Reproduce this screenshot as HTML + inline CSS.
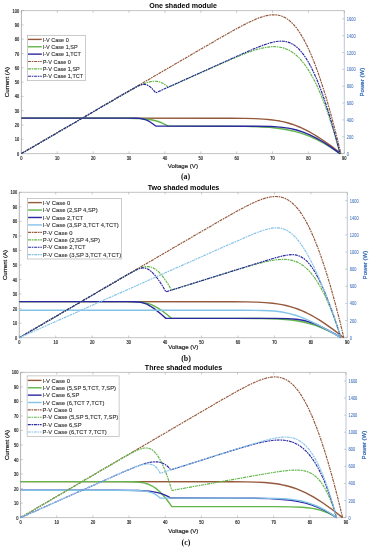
<!DOCTYPE html>
<html><head><meta charset="utf-8"><style>
html,body{margin:0;padding:0;background:#fff;width:371px;height:550px;overflow:hidden}
svg{display:block;will-change:transform}
</style></head><body>
<svg width="371" height="550" viewBox="0 0 371 550" font-family='"Liberation Sans", sans-serif'>
<rect width="371" height="550" fill="#fff"/>
<line x1="21.4" y1="10.6" x2="344.3" y2="10.6" stroke="#b4b4b4" stroke-width="0.8"/>
<line x1="21.4" y1="153.6" x2="344.3" y2="153.6" stroke="#b4b4b4" stroke-width="0.8"/>
<line x1="21.4" y1="10.6" x2="21.4" y2="153.6" stroke="#a0a0a0" stroke-width="0.8"/>
<line x1="344.3" y1="10.6" x2="344.3" y2="153.6" stroke="#b0b8c8" stroke-width="0.8"/>
<line x1="21.4" y1="153.6" x2="21.4" y2="151.4" stroke="#999" stroke-width="0.5"/>
<line x1="21.4" y1="10.6" x2="21.4" y2="12.8" stroke="#999" stroke-width="0.5"/>
<text transform="translate(21.4,160) scale(0.86,1)" font-size="4.6" text-anchor="middle" fill="#2e2e2e" stroke="#2e2e2e" stroke-width="0.2">0</text>
<line x1="57.28" y1="153.6" x2="57.28" y2="151.4" stroke="#999" stroke-width="0.5"/>
<line x1="57.28" y1="10.6" x2="57.28" y2="12.8" stroke="#999" stroke-width="0.5"/>
<text transform="translate(57.28,160) scale(0.86,1)" font-size="4.6" text-anchor="middle" fill="#2e2e2e" stroke="#2e2e2e" stroke-width="0.2">10</text>
<line x1="93.16" y1="153.6" x2="93.16" y2="151.4" stroke="#999" stroke-width="0.5"/>
<line x1="93.16" y1="10.6" x2="93.16" y2="12.8" stroke="#999" stroke-width="0.5"/>
<text transform="translate(93.16,160) scale(0.86,1)" font-size="4.6" text-anchor="middle" fill="#2e2e2e" stroke="#2e2e2e" stroke-width="0.2">20</text>
<line x1="129.03" y1="153.6" x2="129.03" y2="151.4" stroke="#999" stroke-width="0.5"/>
<line x1="129.03" y1="10.6" x2="129.03" y2="12.8" stroke="#999" stroke-width="0.5"/>
<text transform="translate(129.03,160) scale(0.86,1)" font-size="4.6" text-anchor="middle" fill="#2e2e2e" stroke="#2e2e2e" stroke-width="0.2">30</text>
<line x1="164.91" y1="153.6" x2="164.91" y2="151.4" stroke="#999" stroke-width="0.5"/>
<line x1="164.91" y1="10.6" x2="164.91" y2="12.8" stroke="#999" stroke-width="0.5"/>
<text transform="translate(164.91,160) scale(0.86,1)" font-size="4.6" text-anchor="middle" fill="#2e2e2e" stroke="#2e2e2e" stroke-width="0.2">40</text>
<line x1="200.79" y1="153.6" x2="200.79" y2="151.4" stroke="#999" stroke-width="0.5"/>
<line x1="200.79" y1="10.6" x2="200.79" y2="12.8" stroke="#999" stroke-width="0.5"/>
<text transform="translate(200.79,160) scale(0.86,1)" font-size="4.6" text-anchor="middle" fill="#2e2e2e" stroke="#2e2e2e" stroke-width="0.2">50</text>
<line x1="236.67" y1="153.6" x2="236.67" y2="151.4" stroke="#999" stroke-width="0.5"/>
<line x1="236.67" y1="10.6" x2="236.67" y2="12.8" stroke="#999" stroke-width="0.5"/>
<text transform="translate(236.67,160) scale(0.86,1)" font-size="4.6" text-anchor="middle" fill="#2e2e2e" stroke="#2e2e2e" stroke-width="0.2">60</text>
<line x1="272.54" y1="153.6" x2="272.54" y2="151.4" stroke="#999" stroke-width="0.5"/>
<line x1="272.54" y1="10.6" x2="272.54" y2="12.8" stroke="#999" stroke-width="0.5"/>
<text transform="translate(272.54,160) scale(0.86,1)" font-size="4.6" text-anchor="middle" fill="#2e2e2e" stroke="#2e2e2e" stroke-width="0.2">70</text>
<line x1="308.42" y1="153.6" x2="308.42" y2="151.4" stroke="#999" stroke-width="0.5"/>
<line x1="308.42" y1="10.6" x2="308.42" y2="12.8" stroke="#999" stroke-width="0.5"/>
<text transform="translate(308.42,160) scale(0.86,1)" font-size="4.6" text-anchor="middle" fill="#2e2e2e" stroke="#2e2e2e" stroke-width="0.2">80</text>
<line x1="344.3" y1="153.6" x2="344.3" y2="151.4" stroke="#999" stroke-width="0.5"/>
<line x1="344.3" y1="10.6" x2="344.3" y2="12.8" stroke="#999" stroke-width="0.5"/>
<text transform="translate(344.3,160) scale(0.86,1)" font-size="4.6" text-anchor="middle" fill="#2e2e2e" stroke="#2e2e2e" stroke-width="0.2">90</text>
<line x1="21.4" y1="153.6" x2="23.6" y2="153.6" stroke="#999" stroke-width="0.5"/>
<text transform="translate(19.2,155.6) scale(0.86,1)" font-size="4.6" text-anchor="end" fill="#2e2e2e" stroke="#2e2e2e" stroke-width="0.2">0</text>
<line x1="21.4" y1="139.3" x2="23.6" y2="139.3" stroke="#999" stroke-width="0.5"/>
<text transform="translate(19.2,141.3) scale(0.86,1)" font-size="4.6" text-anchor="end" fill="#2e2e2e" stroke="#2e2e2e" stroke-width="0.2">10</text>
<line x1="21.4" y1="125" x2="23.6" y2="125" stroke="#999" stroke-width="0.5"/>
<text transform="translate(19.2,127) scale(0.86,1)" font-size="4.6" text-anchor="end" fill="#2e2e2e" stroke="#2e2e2e" stroke-width="0.2">20</text>
<line x1="21.4" y1="110.7" x2="23.6" y2="110.7" stroke="#999" stroke-width="0.5"/>
<text transform="translate(19.2,112.7) scale(0.86,1)" font-size="4.6" text-anchor="end" fill="#2e2e2e" stroke="#2e2e2e" stroke-width="0.2">30</text>
<line x1="21.4" y1="96.4" x2="23.6" y2="96.4" stroke="#999" stroke-width="0.5"/>
<text transform="translate(19.2,98.4) scale(0.86,1)" font-size="4.6" text-anchor="end" fill="#2e2e2e" stroke="#2e2e2e" stroke-width="0.2">40</text>
<line x1="21.4" y1="82.1" x2="23.6" y2="82.1" stroke="#999" stroke-width="0.5"/>
<text transform="translate(19.2,84.1) scale(0.86,1)" font-size="4.6" text-anchor="end" fill="#2e2e2e" stroke="#2e2e2e" stroke-width="0.2">50</text>
<line x1="21.4" y1="67.8" x2="23.6" y2="67.8" stroke="#999" stroke-width="0.5"/>
<text transform="translate(19.2,69.8) scale(0.86,1)" font-size="4.6" text-anchor="end" fill="#2e2e2e" stroke="#2e2e2e" stroke-width="0.2">60</text>
<line x1="21.4" y1="53.5" x2="23.6" y2="53.5" stroke="#999" stroke-width="0.5"/>
<text transform="translate(19.2,55.5) scale(0.86,1)" font-size="4.6" text-anchor="end" fill="#2e2e2e" stroke="#2e2e2e" stroke-width="0.2">70</text>
<line x1="21.4" y1="39.2" x2="23.6" y2="39.2" stroke="#999" stroke-width="0.5"/>
<text transform="translate(19.2,41.2) scale(0.86,1)" font-size="4.6" text-anchor="end" fill="#2e2e2e" stroke="#2e2e2e" stroke-width="0.2">80</text>
<line x1="21.4" y1="24.9" x2="23.6" y2="24.9" stroke="#999" stroke-width="0.5"/>
<text transform="translate(19.2,26.9) scale(0.86,1)" font-size="4.6" text-anchor="end" fill="#2e2e2e" stroke="#2e2e2e" stroke-width="0.2">90</text>
<line x1="21.4" y1="10.6" x2="23.6" y2="10.6" stroke="#999" stroke-width="0.5"/>
<text transform="translate(19.2,12.6) scale(0.86,1)" font-size="4.6" text-anchor="end" fill="#2e2e2e" stroke="#2e2e2e" stroke-width="0.2">100</text>
<line x1="344.3" y1="153.6" x2="342.1" y2="153.6" stroke="#9aa" stroke-width="0.5"/>
<text transform="translate(346.8,155.6) scale(0.86,1)" font-size="4.6" fill="#4a78c0" stroke="#4a78c0" stroke-width="0.08">0</text>
<line x1="344.3" y1="136.75" x2="342.1" y2="136.75" stroke="#9aa" stroke-width="0.5"/>
<text transform="translate(346.8,138.75) scale(0.86,1)" font-size="4.6" fill="#4a78c0" stroke="#4a78c0" stroke-width="0.08">200</text>
<line x1="344.3" y1="119.9" x2="342.1" y2="119.9" stroke="#9aa" stroke-width="0.5"/>
<text transform="translate(346.8,121.9) scale(0.86,1)" font-size="4.6" fill="#4a78c0" stroke="#4a78c0" stroke-width="0.08">400</text>
<line x1="344.3" y1="103.05" x2="342.1" y2="103.05" stroke="#9aa" stroke-width="0.5"/>
<text transform="translate(346.8,105.05) scale(0.86,1)" font-size="4.6" fill="#4a78c0" stroke="#4a78c0" stroke-width="0.08">600</text>
<line x1="344.3" y1="86.2" x2="342.1" y2="86.2" stroke="#9aa" stroke-width="0.5"/>
<text transform="translate(346.8,88.2) scale(0.86,1)" font-size="4.6" fill="#4a78c0" stroke="#4a78c0" stroke-width="0.08">800</text>
<line x1="344.3" y1="69.35" x2="342.1" y2="69.35" stroke="#9aa" stroke-width="0.5"/>
<text transform="translate(346.8,71.35) scale(0.86,1)" font-size="4.6" fill="#4a78c0" stroke="#4a78c0" stroke-width="0.08">1000</text>
<line x1="344.3" y1="52.5" x2="342.1" y2="52.5" stroke="#9aa" stroke-width="0.5"/>
<text transform="translate(346.8,54.5) scale(0.86,1)" font-size="4.6" fill="#4a78c0" stroke="#4a78c0" stroke-width="0.08">1200</text>
<line x1="344.3" y1="35.65" x2="342.1" y2="35.65" stroke="#9aa" stroke-width="0.5"/>
<text transform="translate(346.8,37.65) scale(0.86,1)" font-size="4.6" fill="#4a78c0" stroke="#4a78c0" stroke-width="0.08">1400</text>
<line x1="344.3" y1="18.8" x2="342.1" y2="18.8" stroke="#9aa" stroke-width="0.5"/>
<text transform="translate(346.8,20.8) scale(0.86,1)" font-size="4.6" fill="#4a78c0" stroke="#4a78c0" stroke-width="0.08">1600</text>
<text x="182.85" y="167.8" font-size="6.1" text-anchor="middle" fill="#262626" stroke="#262626" stroke-width="0.2">Voltage (V)</text>
<text transform="translate(9.4,82.1) rotate(-90)" font-size="6.1" text-anchor="middle" fill="#262626" stroke="#262626" stroke-width="0.22">Current (A)</text>
<text transform="translate(364.1,82.1) rotate(-90)" font-size="6.1" text-anchor="middle" fill="#2d66b6" stroke="#2d66b6" stroke-width="0.22">Power (W)</text>
<text x="183.05" y="7.7" font-size="7.1" text-anchor="middle" fill="#000" font-weight="bold">One shaded module</text>
<text x="185.55" y="178.9" font-size="7.9" text-anchor="middle" fill="#111" font-weight="bold" font-family="Liberation Serif, serif">(a)</text>
<path d="M21.4,118.14 L231.22,118.22 L244.94,118.38 L255.11,118.65 L263.57,119.09 L270.77,119.73 L275.4,120.33 L279.81,121.06 L283.99,121.94 L288.07,122.99 L292.07,124.21 L296.02,125.62 L299.98,127.23 L303.97,129.06 L308.08,131.15 L312.3,133.49 L316.63,136.09 L321.11,138.98 L330.61,145.65 L340.93,153.6" fill="none" stroke="#94583b" stroke-width="1.4" stroke-linejoin="round"/>
<path d="M21.4,118.14 L115.09,118.16 L128.22,118.25 L136.97,118.46 L142.39,118.75 L146.94,119.17 L151.02,119.76 L154.7,120.53 L158.22,121.53 L161.6,122.78 L164.92,124.31 L168.25,126.14 L221.16,126.19 L245.22,126.39 L262.35,126.93 L269.28,127.39 L275.55,127.98 L284.54,129.24 L292.88,130.95 L300.88,133.18 L308.66,135.95 L316.39,139.35 L324.14,143.39 L331.98,148.13 L339.99,153.6" fill="none" stroke="#62b64a" stroke-width="1.4" stroke-linejoin="round"/>
<path d="M21.4,118.14 L126.22,118.14 L136.64,118.24 L139.59,118.41 L141.97,118.72 L144.12,119.22 L146.14,119.93 L148.28,120.94 L150.53,122.27 L152.98,123.96 L155.7,126.07 L255.63,126.18 L271.22,126.54 L277.06,126.88 L282.32,127.36 L289.67,128.43 L296.52,129.98 L303.15,132.09 L309.82,134.82 L316.75,138.28 L324.01,142.51 L331.72,147.6 L339.99,153.6" fill="none" stroke="#2a28a0" stroke-width="1.4" stroke-linejoin="round"/>
<path d="M21.4,153.6 L200,49.61 L221.26,37.33 L235.02,29.59 L242.25,25.69 L248.37,22.57 L253.65,20.11 L258.4,18.13 L262.65,16.65 L266.65,15.59 L270.28,14.97 L273.68,14.76 L276.05,14.87 L278.39,15.2 L280.64,15.77 L282.85,16.57 L284.99,17.6 L287.1,18.87 L289.18,20.39 L291.2,22.14 L293.22,24.16 L295.22,26.43 L297.21,28.97 L299.2,31.79 L303.16,38.26 L307.12,45.88 L311.18,54.85 L315.27,65.06 L319.4,76.53 L323.58,89.31 L327.83,103.4 L332.14,118.85 L336.51,135.57 L340.93,153.6" fill="none" stroke="#94583b" stroke-width="1.15" stroke-linejoin="round" stroke-dasharray="3,0.75,1.6,0.75"/>
<path d="M21.4,153.6 L121.34,95.48 L134.24,88.32 L138.81,86 L142.75,84.2 L146.91,82.63 L150.55,81.66 L153.84,81.23 L156.93,81.34 L159.9,82 L162.73,83.21 L165.5,85 L168.25,87.39 L221.65,63.46 L234.92,57.74 L244.71,53.77 L253.6,50.57 L261.31,48.33 L264.7,47.59 L267.89,47.06 L270.97,46.74 L273.88,46.64 L276.48,46.73 L278.98,47 L281.44,47.45 L283.8,48.09 L286.09,48.91 L288.35,49.92 L290.57,51.13 L292.73,52.52 L294.87,54.12 L296.98,55.92 L299.07,57.93 L301.13,60.15 L305.2,65.24 L309.16,71.17 L313.12,78.07 L317.02,85.88 L320.89,94.68 L324.74,104.43 L328.56,115.18 L332.37,126.93 L336.19,139.76 L339.99,153.6" fill="none" stroke="#62b64a" stroke-width="1.15" stroke-linejoin="round" stroke-dasharray="3,0.75,1.6,0.75"/>
<path d="M21.4,153.6 L128.56,91.21 L135.19,87.45 L138.98,85.56 L141.37,84.69 L143.43,84.33 L145.36,84.44 L147.24,85.02 L149.22,86.14 L151.26,87.81 L153.42,90.06 L155.7,92.89 L232.83,58.06 L246.04,52.2 L255.26,48.27 L263.77,44.96 L270.39,42.83 L273.4,42.07 L276.17,41.55 L278.76,41.24 L281.15,41.14 L283.32,41.23 L285.38,41.5 L287.4,41.96 L289.33,42.59 L291.23,43.42 L293.09,44.44 L294.88,45.63 L296.68,47.04 L298.45,48.66 L300.23,50.5 L303.73,54.84 L307.19,60.04 L310.65,66.19 L314.19,73.44 L317.75,81.7 L321.34,91.01 L324.97,101.35 L328.66,112.79 L332.38,125.3 L336.16,138.89 L339.99,153.6" fill="none" stroke="#2a28a0" stroke-width="1.15" stroke-linejoin="round" stroke-dasharray="3,0.75,1.6,0.75"/>
<rect x="27.3" y="35.6" width="58" height="45.1" fill="#fff" stroke="#a8a8a8" stroke-width="0.6"/>
<line x1="28" y1="39.4" x2="41.8" y2="39.4" stroke="#94583b" stroke-width="1.4"/>
<text transform="translate(42.7,41.6) scale(0.89,1)" font-size="6.2" fill="#303030" stroke="#303030" stroke-width="0.12">I-V Case 0</text>
<line x1="28" y1="46.76" x2="41.8" y2="46.76" stroke="#62b64a" stroke-width="1.4"/>
<text transform="translate(42.7,48.96) scale(0.89,1)" font-size="6.2" fill="#303030" stroke="#303030" stroke-width="0.12">I-V Case 1,SP</text>
<line x1="28" y1="54.12" x2="41.8" y2="54.12" stroke="#2a28a0" stroke-width="1.4"/>
<text transform="translate(42.7,56.32) scale(0.89,1)" font-size="6.2" fill="#303030" stroke="#303030" stroke-width="0.12">I-V Case 1,TCT</text>
<line x1="28" y1="61.48" x2="41.8" y2="61.48" stroke="#94583b" stroke-width="1.15" stroke-dasharray="3,0.75,1.6,0.75"/>
<text transform="translate(42.7,63.68) scale(0.89,1)" font-size="6.2" fill="#303030" stroke="#303030" stroke-width="0.12">P-V Case 0</text>
<line x1="28" y1="68.84" x2="41.8" y2="68.84" stroke="#62b64a" stroke-width="1.15" stroke-dasharray="3,0.75,1.6,0.75"/>
<text transform="translate(42.7,71.04) scale(0.89,1)" font-size="6.2" fill="#303030" stroke="#303030" stroke-width="0.12">P-V Case 1,SP</text>
<line x1="28" y1="76.2" x2="41.8" y2="76.2" stroke="#2a28a0" stroke-width="1.15" stroke-dasharray="3,0.75,1.6,0.75"/>
<text transform="translate(42.7,78.4) scale(0.89,1)" font-size="6.2" fill="#303030" stroke="#303030" stroke-width="0.12">P-V Case 1,TCT</text>
<line x1="19.3" y1="192.3" x2="347.3" y2="192.3" stroke="#b4b4b4" stroke-width="0.8"/>
<line x1="19.3" y1="337.7" x2="347.3" y2="337.7" stroke="#b4b4b4" stroke-width="0.8"/>
<line x1="19.3" y1="192.3" x2="19.3" y2="337.7" stroke="#a0a0a0" stroke-width="0.8"/>
<line x1="347.3" y1="192.3" x2="347.3" y2="337.7" stroke="#b0b8c8" stroke-width="0.8"/>
<line x1="19.3" y1="337.7" x2="19.3" y2="335.5" stroke="#999" stroke-width="0.5"/>
<line x1="19.3" y1="192.3" x2="19.3" y2="194.5" stroke="#999" stroke-width="0.5"/>
<text transform="translate(19.3,344.1) scale(0.86,1)" font-size="4.6" text-anchor="middle" fill="#2e2e2e" stroke="#2e2e2e" stroke-width="0.2">0</text>
<line x1="55.74" y1="337.7" x2="55.74" y2="335.5" stroke="#999" stroke-width="0.5"/>
<line x1="55.74" y1="192.3" x2="55.74" y2="194.5" stroke="#999" stroke-width="0.5"/>
<text transform="translate(55.74,344.1) scale(0.86,1)" font-size="4.6" text-anchor="middle" fill="#2e2e2e" stroke="#2e2e2e" stroke-width="0.2">10</text>
<line x1="92.19" y1="337.7" x2="92.19" y2="335.5" stroke="#999" stroke-width="0.5"/>
<line x1="92.19" y1="192.3" x2="92.19" y2="194.5" stroke="#999" stroke-width="0.5"/>
<text transform="translate(92.19,344.1) scale(0.86,1)" font-size="4.6" text-anchor="middle" fill="#2e2e2e" stroke="#2e2e2e" stroke-width="0.2">20</text>
<line x1="128.63" y1="337.7" x2="128.63" y2="335.5" stroke="#999" stroke-width="0.5"/>
<line x1="128.63" y1="192.3" x2="128.63" y2="194.5" stroke="#999" stroke-width="0.5"/>
<text transform="translate(128.63,344.1) scale(0.86,1)" font-size="4.6" text-anchor="middle" fill="#2e2e2e" stroke="#2e2e2e" stroke-width="0.2">30</text>
<line x1="165.08" y1="337.7" x2="165.08" y2="335.5" stroke="#999" stroke-width="0.5"/>
<line x1="165.08" y1="192.3" x2="165.08" y2="194.5" stroke="#999" stroke-width="0.5"/>
<text transform="translate(165.08,344.1) scale(0.86,1)" font-size="4.6" text-anchor="middle" fill="#2e2e2e" stroke="#2e2e2e" stroke-width="0.2">40</text>
<line x1="201.52" y1="337.7" x2="201.52" y2="335.5" stroke="#999" stroke-width="0.5"/>
<line x1="201.52" y1="192.3" x2="201.52" y2="194.5" stroke="#999" stroke-width="0.5"/>
<text transform="translate(201.52,344.1) scale(0.86,1)" font-size="4.6" text-anchor="middle" fill="#2e2e2e" stroke="#2e2e2e" stroke-width="0.2">50</text>
<line x1="237.97" y1="337.7" x2="237.97" y2="335.5" stroke="#999" stroke-width="0.5"/>
<line x1="237.97" y1="192.3" x2="237.97" y2="194.5" stroke="#999" stroke-width="0.5"/>
<text transform="translate(237.97,344.1) scale(0.86,1)" font-size="4.6" text-anchor="middle" fill="#2e2e2e" stroke="#2e2e2e" stroke-width="0.2">60</text>
<line x1="274.41" y1="337.7" x2="274.41" y2="335.5" stroke="#999" stroke-width="0.5"/>
<line x1="274.41" y1="192.3" x2="274.41" y2="194.5" stroke="#999" stroke-width="0.5"/>
<text transform="translate(274.41,344.1) scale(0.86,1)" font-size="4.6" text-anchor="middle" fill="#2e2e2e" stroke="#2e2e2e" stroke-width="0.2">70</text>
<line x1="310.86" y1="337.7" x2="310.86" y2="335.5" stroke="#999" stroke-width="0.5"/>
<line x1="310.86" y1="192.3" x2="310.86" y2="194.5" stroke="#999" stroke-width="0.5"/>
<text transform="translate(310.86,344.1) scale(0.86,1)" font-size="4.6" text-anchor="middle" fill="#2e2e2e" stroke="#2e2e2e" stroke-width="0.2">80</text>
<line x1="347.3" y1="337.7" x2="347.3" y2="335.5" stroke="#999" stroke-width="0.5"/>
<line x1="347.3" y1="192.3" x2="347.3" y2="194.5" stroke="#999" stroke-width="0.5"/>
<text transform="translate(347.3,344.1) scale(0.86,1)" font-size="4.6" text-anchor="middle" fill="#2e2e2e" stroke="#2e2e2e" stroke-width="0.2">90</text>
<line x1="19.3" y1="337.7" x2="21.5" y2="337.7" stroke="#999" stroke-width="0.5"/>
<text transform="translate(17.1,339.7) scale(0.86,1)" font-size="4.6" text-anchor="end" fill="#2e2e2e" stroke="#2e2e2e" stroke-width="0.2">0</text>
<line x1="19.3" y1="323.16" x2="21.5" y2="323.16" stroke="#999" stroke-width="0.5"/>
<text transform="translate(17.1,325.16) scale(0.86,1)" font-size="4.6" text-anchor="end" fill="#2e2e2e" stroke="#2e2e2e" stroke-width="0.2">10</text>
<line x1="19.3" y1="308.62" x2="21.5" y2="308.62" stroke="#999" stroke-width="0.5"/>
<text transform="translate(17.1,310.62) scale(0.86,1)" font-size="4.6" text-anchor="end" fill="#2e2e2e" stroke="#2e2e2e" stroke-width="0.2">20</text>
<line x1="19.3" y1="294.08" x2="21.5" y2="294.08" stroke="#999" stroke-width="0.5"/>
<text transform="translate(17.1,296.08) scale(0.86,1)" font-size="4.6" text-anchor="end" fill="#2e2e2e" stroke="#2e2e2e" stroke-width="0.2">30</text>
<line x1="19.3" y1="279.54" x2="21.5" y2="279.54" stroke="#999" stroke-width="0.5"/>
<text transform="translate(17.1,281.54) scale(0.86,1)" font-size="4.6" text-anchor="end" fill="#2e2e2e" stroke="#2e2e2e" stroke-width="0.2">40</text>
<line x1="19.3" y1="265" x2="21.5" y2="265" stroke="#999" stroke-width="0.5"/>
<text transform="translate(17.1,267) scale(0.86,1)" font-size="4.6" text-anchor="end" fill="#2e2e2e" stroke="#2e2e2e" stroke-width="0.2">50</text>
<line x1="19.3" y1="250.46" x2="21.5" y2="250.46" stroke="#999" stroke-width="0.5"/>
<text transform="translate(17.1,252.46) scale(0.86,1)" font-size="4.6" text-anchor="end" fill="#2e2e2e" stroke="#2e2e2e" stroke-width="0.2">60</text>
<line x1="19.3" y1="235.92" x2="21.5" y2="235.92" stroke="#999" stroke-width="0.5"/>
<text transform="translate(17.1,237.92) scale(0.86,1)" font-size="4.6" text-anchor="end" fill="#2e2e2e" stroke="#2e2e2e" stroke-width="0.2">70</text>
<line x1="19.3" y1="221.38" x2="21.5" y2="221.38" stroke="#999" stroke-width="0.5"/>
<text transform="translate(17.1,223.38) scale(0.86,1)" font-size="4.6" text-anchor="end" fill="#2e2e2e" stroke="#2e2e2e" stroke-width="0.2">80</text>
<line x1="19.3" y1="206.84" x2="21.5" y2="206.84" stroke="#999" stroke-width="0.5"/>
<text transform="translate(17.1,208.84) scale(0.86,1)" font-size="4.6" text-anchor="end" fill="#2e2e2e" stroke="#2e2e2e" stroke-width="0.2">90</text>
<line x1="19.3" y1="192.3" x2="21.5" y2="192.3" stroke="#999" stroke-width="0.5"/>
<text transform="translate(17.1,194.3) scale(0.86,1)" font-size="4.6" text-anchor="end" fill="#2e2e2e" stroke="#2e2e2e" stroke-width="0.2">100</text>
<line x1="347.3" y1="337.7" x2="345.1" y2="337.7" stroke="#9aa" stroke-width="0.5"/>
<text transform="translate(349.8,339.7) scale(0.86,1)" font-size="4.6" fill="#4a78c0" stroke="#4a78c0" stroke-width="0.08">0</text>
<line x1="347.3" y1="320.56" x2="345.1" y2="320.56" stroke="#9aa" stroke-width="0.5"/>
<text transform="translate(349.8,322.56) scale(0.86,1)" font-size="4.6" fill="#4a78c0" stroke="#4a78c0" stroke-width="0.08">200</text>
<line x1="347.3" y1="303.43" x2="345.1" y2="303.43" stroke="#9aa" stroke-width="0.5"/>
<text transform="translate(349.8,305.43) scale(0.86,1)" font-size="4.6" fill="#4a78c0" stroke="#4a78c0" stroke-width="0.08">400</text>
<line x1="347.3" y1="286.29" x2="345.1" y2="286.29" stroke="#9aa" stroke-width="0.5"/>
<text transform="translate(349.8,288.29) scale(0.86,1)" font-size="4.6" fill="#4a78c0" stroke="#4a78c0" stroke-width="0.08">600</text>
<line x1="347.3" y1="269.15" x2="345.1" y2="269.15" stroke="#9aa" stroke-width="0.5"/>
<text transform="translate(349.8,271.15) scale(0.86,1)" font-size="4.6" fill="#4a78c0" stroke="#4a78c0" stroke-width="0.08">800</text>
<line x1="347.3" y1="252.01" x2="345.1" y2="252.01" stroke="#9aa" stroke-width="0.5"/>
<text transform="translate(349.8,254.01) scale(0.86,1)" font-size="4.6" fill="#4a78c0" stroke="#4a78c0" stroke-width="0.08">1000</text>
<line x1="347.3" y1="234.88" x2="345.1" y2="234.88" stroke="#9aa" stroke-width="0.5"/>
<text transform="translate(349.8,236.88) scale(0.86,1)" font-size="4.6" fill="#4a78c0" stroke="#4a78c0" stroke-width="0.08">1200</text>
<line x1="347.3" y1="217.74" x2="345.1" y2="217.74" stroke="#9aa" stroke-width="0.5"/>
<text transform="translate(349.8,219.74) scale(0.86,1)" font-size="4.6" fill="#4a78c0" stroke="#4a78c0" stroke-width="0.08">1400</text>
<line x1="347.3" y1="200.6" x2="345.1" y2="200.6" stroke="#9aa" stroke-width="0.5"/>
<text transform="translate(349.8,202.6) scale(0.86,1)" font-size="4.6" fill="#4a78c0" stroke="#4a78c0" stroke-width="0.08">1600</text>
<text x="183.3" y="349.3" font-size="6.1" text-anchor="middle" fill="#262626" stroke="#262626" stroke-width="0.2">Voltage (V)</text>
<text transform="translate(7.3,265) rotate(-90)" font-size="6.1" text-anchor="middle" fill="#262626" stroke="#262626" stroke-width="0.22">Current (A)</text>
<text transform="translate(367.1,265) rotate(-90)" font-size="6.1" text-anchor="middle" fill="#2d66b6" stroke="#2d66b6" stroke-width="0.22">Power (W)</text>
<text x="183.5" y="190.2" font-size="7.1" text-anchor="middle" fill="#000" font-weight="bold">Two shaded modules</text>
<text x="186" y="360.5" font-size="7.9" text-anchor="middle" fill="#111" font-weight="bold" font-family="Liberation Serif, serif">(b)</text>
<path d="M19.3,301.64 L232.43,301.73 L246.37,301.88 L256.7,302.16 L265.3,302.61 L272.61,303.26 L277.31,303.87 L281.79,304.62 L286.04,305.51 L290.18,306.57 L294.24,307.82 L298.26,309.25 L302.28,310.89 L306.34,312.75 L310.51,314.87 L314.79,317.25 L319.2,319.9 L323.75,322.83 L333.39,329.61 L343.87,337.7" fill="none" stroke="#94583b" stroke-width="1.4" stroke-linejoin="round"/>
<path d="M19.3,301.64 L124.67,301.67 L134.9,301.83 L141.29,302.26 L145.09,302.84 L148.57,303.71 L151.92,304.91 L155.31,306.53 L158.89,308.63 L162.73,311.26 L166.91,314.49 L171.51,318.36 L235.75,318.39 L260.93,318.55 L278.28,319.04 L285.12,319.48 L291.16,320.05 L297.84,320.98 L304.15,322.21 L310.2,323.76 L316.18,325.68 L322.17,328.01 L328.26,330.77 L334.48,333.98 L340.92,337.7" fill="none" stroke="#62b64a" stroke-width="1.4" stroke-linejoin="round"/>
<path d="M19.3,301.64 L127.01,301.65 L134.44,301.75 L138.92,302.05 L141.88,302.53 L144.62,303.32 L147.34,304.46 L150.2,306.03 L153.43,308.15 L157.06,310.87 L161.2,314.25 L165.93,318.36 L275.43,318.41 L287.87,318.65 L296.23,319.24 L301.3,319.98 L306.14,321.05 L310.98,322.52 L316.04,324.43 L321.51,326.87 L327.42,329.86 L333.87,333.46 L340.92,337.7" fill="none" stroke="#2a28a0" stroke-width="1.4" stroke-linejoin="round"/>
<path d="M19.3,310.22 L243.72,310.25 L262.54,310.46 L268.91,310.71 L274.3,311.07 L281.77,311.96 L288.69,313.32 L295.61,315.26 L302.85,317.89 L310.83,321.36 L319.69,325.74 L329.66,331.16 L340.92,337.7" fill="none" stroke="#84c3e8" stroke-width="1.4" stroke-linejoin="round"/>
<path d="M19.3,337.7 L200.72,231.94 L222.32,219.45 L236.29,211.58 L243.63,207.61 L249.86,204.44 L255.21,201.93 L260.04,199.92 L264.36,198.42 L268.43,197.33 L272.11,196.7 L275.57,196.49 L277.97,196.6 L280.35,196.94 L282.63,197.51 L284.88,198.33 L287.06,199.38 L289.2,200.67 L291.31,202.22 L293.36,203.99 L295.42,206.05 L297.45,208.36 L299.46,210.94 L301.48,213.81 L305.51,220.39 L309.53,228.14 L313.66,237.27 L317.81,247.65 L322,259.31 L326.26,272.31 L330.57,286.64 L334.95,302.35 L339.38,319.36 L343.87,337.7" fill="none" stroke="#94583b" stroke-width="1.15" stroke-linejoin="round" stroke-dasharray="3,0.75,1.6,0.75"/>
<path d="M19.3,337.7 L126.33,275.35 L132.1,272.13 L136.26,269.96 L139.73,268.39 L142.6,267.37 L144.57,266.88 L146.47,266.63 L148.24,266.61 L149.95,266.83 L151.64,267.29 L153.33,267.99 L155,268.94 L156.69,270.15 L158.43,271.64 L160.21,273.43 L163.85,277.84 L167.61,283.4 L171.51,290.1 L232.01,271.25 L245.6,267.14 L255.51,264.3 L264.29,262.04 L271.44,260.53 L277.73,259.62 L283.26,259.33 L287.85,259.58 L292.08,260.34 L296.06,261.62 L299.81,263.42 L303.46,265.81 L307.01,268.82 L310.45,272.41 L313.86,276.67 L317.25,281.66 L320.64,287.39 L324.02,293.85 L327.38,301.04 L330.73,309 L334.12,317.78 L337.52,327.35 L340.92,337.7" fill="none" stroke="#62b64a" stroke-width="1.15" stroke-linejoin="round" stroke-dasharray="3,0.75,1.6,0.75"/>
<path d="M19.3,337.7 L127.94,274.38 L135.34,270.3 L137.73,269.2 L139.73,268.47 L141.33,268.08 L142.81,267.92 L144.25,267.97 L145.66,268.26 L147.09,268.77 L148.55,269.53 L150.02,270.53 L151.55,271.79 L154.85,275.18 L158.36,279.69 L162.07,285.26 L165.93,291.85 L254.05,264.3 L272.26,258.72 L279.11,256.79 L284.22,255.58 L288.39,254.88 L292.06,254.65 L295.39,254.89 L298.45,255.64 L301.3,256.9 L304.07,258.72 L306.85,261.18 L309.59,264.26 L312.35,268.01 L315.16,272.47 L318.12,277.83 L321.13,283.96 L324.24,290.92 L327.42,298.66 L330.68,307.23 L334.02,316.59 L337.44,326.75 L340.92,337.7" fill="none" stroke="#2a28a0" stroke-width="1.15" stroke-linejoin="round" stroke-dasharray="3,0.75,1.6,0.75"/>
<path d="M19.3,337.7 L218.45,249.21 L246.29,236.98 L256.96,232.6 L264.86,229.83 L268.08,228.95 L271.06,228.31 L273.81,227.94 L276.41,227.81 L278.5,227.91 L280.48,228.17 L282.41,228.61 L284.27,229.23 L286.1,230.02 L287.93,231.02 L289.73,232.19 L291.53,233.58 L295.16,236.97 L298.81,241.23 L302.52,246.37 L306.32,252.45 L310.3,259.64 L314.39,267.85 L318.58,277.04 L322.87,287.24 L327.25,298.42 L331.74,310.59 L336.29,323.68 L340.92,337.7" fill="none" stroke="#84c3e8" stroke-width="1.15" stroke-linejoin="round" stroke-dasharray="3,0.75,1.6,0.75"/>
<rect x="27.4" y="198.6" width="94.1" height="60.4" fill="#fff" stroke="#a8a8a8" stroke-width="0.6"/>
<line x1="28.1" y1="202.6" x2="41.9" y2="202.6" stroke="#94583b" stroke-width="1.4"/>
<text transform="translate(42.8,204.8) scale(0.94,1)" font-size="6.2" fill="#303030" stroke="#303030" stroke-width="0.12">I-V Case 0</text>
<line x1="28.1" y1="210.04" x2="41.9" y2="210.04" stroke="#62b64a" stroke-width="1.4"/>
<text transform="translate(42.8,212.24) scale(0.94,1)" font-size="6.2" fill="#303030" stroke="#303030" stroke-width="0.12">I-V Case (2,SP 4,SP)</text>
<line x1="28.1" y1="217.48" x2="41.9" y2="217.48" stroke="#2a28a0" stroke-width="1.4"/>
<text transform="translate(42.8,219.68) scale(0.94,1)" font-size="6.2" fill="#303030" stroke="#303030" stroke-width="0.12">I-V Case 2,TCT</text>
<line x1="28.1" y1="224.92" x2="41.9" y2="224.92" stroke="#84c3e8" stroke-width="1.4"/>
<text transform="translate(42.8,227.12) scale(0.94,1)" font-size="6.2" fill="#303030" stroke="#303030" stroke-width="0.12">I-V Case (3,SP 3,TCT 4,TCT)</text>
<line x1="28.1" y1="232.36" x2="41.9" y2="232.36" stroke="#94583b" stroke-width="1.15" stroke-dasharray="3,0.75,1.6,0.75"/>
<text transform="translate(42.8,234.56) scale(0.94,1)" font-size="6.2" fill="#303030" stroke="#303030" stroke-width="0.12">P-V Case 0</text>
<line x1="28.1" y1="239.8" x2="41.9" y2="239.8" stroke="#62b64a" stroke-width="1.15" stroke-dasharray="3,0.75,1.6,0.75"/>
<text transform="translate(42.8,242) scale(0.94,1)" font-size="6.2" fill="#303030" stroke="#303030" stroke-width="0.12">P-V Case (2,SP 4,SP)</text>
<line x1="28.1" y1="247.24" x2="41.9" y2="247.24" stroke="#2a28a0" stroke-width="1.15" stroke-dasharray="3,0.75,1.6,0.75"/>
<text transform="translate(42.8,249.44) scale(0.94,1)" font-size="6.2" fill="#303030" stroke="#303030" stroke-width="0.12">P-V Case 2,TCT</text>
<line x1="28.1" y1="254.68" x2="41.9" y2="254.68" stroke="#84c3e8" stroke-width="1.15" stroke-dasharray="3,0.75,1.6,0.75"/>
<text transform="translate(42.8,256.88) scale(0.94,1)" font-size="6.2" fill="#303030" stroke="#303030" stroke-width="0.12">P-V Case (3,SP 3,TCT 4,TCT)</text>
<line x1="20.6" y1="372.4" x2="346" y2="372.4" stroke="#b4b4b4" stroke-width="0.8"/>
<line x1="20.6" y1="517.6" x2="346" y2="517.6" stroke="#b4b4b4" stroke-width="0.8"/>
<line x1="20.6" y1="372.4" x2="20.6" y2="517.6" stroke="#a0a0a0" stroke-width="0.8"/>
<line x1="346" y1="372.4" x2="346" y2="517.6" stroke="#b0b8c8" stroke-width="0.8"/>
<line x1="20.6" y1="517.6" x2="20.6" y2="515.4" stroke="#999" stroke-width="0.5"/>
<line x1="20.6" y1="372.4" x2="20.6" y2="374.6" stroke="#999" stroke-width="0.5"/>
<text transform="translate(20.6,524) scale(0.86,1)" font-size="4.6" text-anchor="middle" fill="#2e2e2e" stroke="#2e2e2e" stroke-width="0.2">0</text>
<line x1="56.76" y1="517.6" x2="56.76" y2="515.4" stroke="#999" stroke-width="0.5"/>
<line x1="56.76" y1="372.4" x2="56.76" y2="374.6" stroke="#999" stroke-width="0.5"/>
<text transform="translate(56.76,524) scale(0.86,1)" font-size="4.6" text-anchor="middle" fill="#2e2e2e" stroke="#2e2e2e" stroke-width="0.2">10</text>
<line x1="92.91" y1="517.6" x2="92.91" y2="515.4" stroke="#999" stroke-width="0.5"/>
<line x1="92.91" y1="372.4" x2="92.91" y2="374.6" stroke="#999" stroke-width="0.5"/>
<text transform="translate(92.91,524) scale(0.86,1)" font-size="4.6" text-anchor="middle" fill="#2e2e2e" stroke="#2e2e2e" stroke-width="0.2">20</text>
<line x1="129.07" y1="517.6" x2="129.07" y2="515.4" stroke="#999" stroke-width="0.5"/>
<line x1="129.07" y1="372.4" x2="129.07" y2="374.6" stroke="#999" stroke-width="0.5"/>
<text transform="translate(129.07,524) scale(0.86,1)" font-size="4.6" text-anchor="middle" fill="#2e2e2e" stroke="#2e2e2e" stroke-width="0.2">30</text>
<line x1="165.22" y1="517.6" x2="165.22" y2="515.4" stroke="#999" stroke-width="0.5"/>
<line x1="165.22" y1="372.4" x2="165.22" y2="374.6" stroke="#999" stroke-width="0.5"/>
<text transform="translate(165.22,524) scale(0.86,1)" font-size="4.6" text-anchor="middle" fill="#2e2e2e" stroke="#2e2e2e" stroke-width="0.2">40</text>
<line x1="201.38" y1="517.6" x2="201.38" y2="515.4" stroke="#999" stroke-width="0.5"/>
<line x1="201.38" y1="372.4" x2="201.38" y2="374.6" stroke="#999" stroke-width="0.5"/>
<text transform="translate(201.38,524) scale(0.86,1)" font-size="4.6" text-anchor="middle" fill="#2e2e2e" stroke="#2e2e2e" stroke-width="0.2">50</text>
<line x1="237.53" y1="517.6" x2="237.53" y2="515.4" stroke="#999" stroke-width="0.5"/>
<line x1="237.53" y1="372.4" x2="237.53" y2="374.6" stroke="#999" stroke-width="0.5"/>
<text transform="translate(237.53,524) scale(0.86,1)" font-size="4.6" text-anchor="middle" fill="#2e2e2e" stroke="#2e2e2e" stroke-width="0.2">60</text>
<line x1="273.69" y1="517.6" x2="273.69" y2="515.4" stroke="#999" stroke-width="0.5"/>
<line x1="273.69" y1="372.4" x2="273.69" y2="374.6" stroke="#999" stroke-width="0.5"/>
<text transform="translate(273.69,524) scale(0.86,1)" font-size="4.6" text-anchor="middle" fill="#2e2e2e" stroke="#2e2e2e" stroke-width="0.2">70</text>
<line x1="309.84" y1="517.6" x2="309.84" y2="515.4" stroke="#999" stroke-width="0.5"/>
<line x1="309.84" y1="372.4" x2="309.84" y2="374.6" stroke="#999" stroke-width="0.5"/>
<text transform="translate(309.84,524) scale(0.86,1)" font-size="4.6" text-anchor="middle" fill="#2e2e2e" stroke="#2e2e2e" stroke-width="0.2">80</text>
<line x1="346" y1="517.6" x2="346" y2="515.4" stroke="#999" stroke-width="0.5"/>
<line x1="346" y1="372.4" x2="346" y2="374.6" stroke="#999" stroke-width="0.5"/>
<text transform="translate(346,524) scale(0.86,1)" font-size="4.6" text-anchor="middle" fill="#2e2e2e" stroke="#2e2e2e" stroke-width="0.2">90</text>
<line x1="20.6" y1="517.6" x2="22.8" y2="517.6" stroke="#999" stroke-width="0.5"/>
<text transform="translate(18.4,519.6) scale(0.86,1)" font-size="4.6" text-anchor="end" fill="#2e2e2e" stroke="#2e2e2e" stroke-width="0.2">0</text>
<line x1="20.6" y1="503.08" x2="22.8" y2="503.08" stroke="#999" stroke-width="0.5"/>
<text transform="translate(18.4,505.08) scale(0.86,1)" font-size="4.6" text-anchor="end" fill="#2e2e2e" stroke="#2e2e2e" stroke-width="0.2">10</text>
<line x1="20.6" y1="488.56" x2="22.8" y2="488.56" stroke="#999" stroke-width="0.5"/>
<text transform="translate(18.4,490.56) scale(0.86,1)" font-size="4.6" text-anchor="end" fill="#2e2e2e" stroke="#2e2e2e" stroke-width="0.2">20</text>
<line x1="20.6" y1="474.04" x2="22.8" y2="474.04" stroke="#999" stroke-width="0.5"/>
<text transform="translate(18.4,476.04) scale(0.86,1)" font-size="4.6" text-anchor="end" fill="#2e2e2e" stroke="#2e2e2e" stroke-width="0.2">30</text>
<line x1="20.6" y1="459.52" x2="22.8" y2="459.52" stroke="#999" stroke-width="0.5"/>
<text transform="translate(18.4,461.52) scale(0.86,1)" font-size="4.6" text-anchor="end" fill="#2e2e2e" stroke="#2e2e2e" stroke-width="0.2">40</text>
<line x1="20.6" y1="445" x2="22.8" y2="445" stroke="#999" stroke-width="0.5"/>
<text transform="translate(18.4,447) scale(0.86,1)" font-size="4.6" text-anchor="end" fill="#2e2e2e" stroke="#2e2e2e" stroke-width="0.2">50</text>
<line x1="20.6" y1="430.48" x2="22.8" y2="430.48" stroke="#999" stroke-width="0.5"/>
<text transform="translate(18.4,432.48) scale(0.86,1)" font-size="4.6" text-anchor="end" fill="#2e2e2e" stroke="#2e2e2e" stroke-width="0.2">60</text>
<line x1="20.6" y1="415.96" x2="22.8" y2="415.96" stroke="#999" stroke-width="0.5"/>
<text transform="translate(18.4,417.96) scale(0.86,1)" font-size="4.6" text-anchor="end" fill="#2e2e2e" stroke="#2e2e2e" stroke-width="0.2">70</text>
<line x1="20.6" y1="401.44" x2="22.8" y2="401.44" stroke="#999" stroke-width="0.5"/>
<text transform="translate(18.4,403.44) scale(0.86,1)" font-size="4.6" text-anchor="end" fill="#2e2e2e" stroke="#2e2e2e" stroke-width="0.2">80</text>
<line x1="20.6" y1="386.92" x2="22.8" y2="386.92" stroke="#999" stroke-width="0.5"/>
<text transform="translate(18.4,388.92) scale(0.86,1)" font-size="4.6" text-anchor="end" fill="#2e2e2e" stroke="#2e2e2e" stroke-width="0.2">90</text>
<line x1="20.6" y1="372.4" x2="22.8" y2="372.4" stroke="#999" stroke-width="0.5"/>
<text transform="translate(18.4,374.4) scale(0.86,1)" font-size="4.6" text-anchor="end" fill="#2e2e2e" stroke="#2e2e2e" stroke-width="0.2">100</text>
<line x1="346" y1="517.6" x2="343.8" y2="517.6" stroke="#9aa" stroke-width="0.5"/>
<text transform="translate(348.5,519.6) scale(0.86,1)" font-size="4.6" fill="#4a78c0" stroke="#4a78c0" stroke-width="0.08">0</text>
<line x1="346" y1="500.53" x2="343.8" y2="500.53" stroke="#9aa" stroke-width="0.5"/>
<text transform="translate(348.5,502.53) scale(0.86,1)" font-size="4.6" fill="#4a78c0" stroke="#4a78c0" stroke-width="0.08">200</text>
<line x1="346" y1="483.45" x2="343.8" y2="483.45" stroke="#9aa" stroke-width="0.5"/>
<text transform="translate(348.5,485.45) scale(0.86,1)" font-size="4.6" fill="#4a78c0" stroke="#4a78c0" stroke-width="0.08">400</text>
<line x1="346" y1="466.38" x2="343.8" y2="466.38" stroke="#9aa" stroke-width="0.5"/>
<text transform="translate(348.5,468.38) scale(0.86,1)" font-size="4.6" fill="#4a78c0" stroke="#4a78c0" stroke-width="0.08">600</text>
<line x1="346" y1="449.3" x2="343.8" y2="449.3" stroke="#9aa" stroke-width="0.5"/>
<text transform="translate(348.5,451.3) scale(0.86,1)" font-size="4.6" fill="#4a78c0" stroke="#4a78c0" stroke-width="0.08">800</text>
<line x1="346" y1="432.23" x2="343.8" y2="432.23" stroke="#9aa" stroke-width="0.5"/>
<text transform="translate(348.5,434.23) scale(0.86,1)" font-size="4.6" fill="#4a78c0" stroke="#4a78c0" stroke-width="0.08">1000</text>
<line x1="346" y1="415.15" x2="343.8" y2="415.15" stroke="#9aa" stroke-width="0.5"/>
<text transform="translate(348.5,417.15) scale(0.86,1)" font-size="4.6" fill="#4a78c0" stroke="#4a78c0" stroke-width="0.08">1200</text>
<line x1="346" y1="398.07" x2="343.8" y2="398.07" stroke="#9aa" stroke-width="0.5"/>
<text transform="translate(348.5,400.07) scale(0.86,1)" font-size="4.6" fill="#4a78c0" stroke="#4a78c0" stroke-width="0.08">1400</text>
<line x1="346" y1="381" x2="343.8" y2="381" stroke="#9aa" stroke-width="0.5"/>
<text transform="translate(348.5,383) scale(0.86,1)" font-size="4.6" fill="#4a78c0" stroke="#4a78c0" stroke-width="0.08">1600</text>
<text x="183.3" y="533.1" font-size="6.1" text-anchor="middle" fill="#262626" stroke="#262626" stroke-width="0.2">Voltage (V)</text>
<text transform="translate(8.6,445) rotate(-90)" font-size="6.1" text-anchor="middle" fill="#262626" stroke="#262626" stroke-width="0.22">Current (A)</text>
<text transform="translate(365.8,445) rotate(-90)" font-size="6.1" text-anchor="middle" fill="#2d66b6" stroke="#2d66b6" stroke-width="0.22">Power (W)</text>
<text x="183.5" y="370.2" font-size="7.1" text-anchor="middle" fill="#000" font-weight="bold">Three shaded modules</text>
<text x="186" y="545.3" font-size="7.9" text-anchor="middle" fill="#111" font-weight="bold" font-family="Liberation Serif, serif">(c)</text>
<path d="M20.6,481.59 L232.04,481.68 L245.87,481.83 L256.12,482.11 L264.65,482.56 L271.9,483.21 L276.57,483.81 L281.01,484.56 L285.22,485.45 L289.33,486.52 L293.37,487.76 L297.35,489.19 L301.34,490.83 L305.36,492.68 L309.5,494.8 L313.75,497.18 L318.12,499.82 L322.63,502.75 L332.2,509.52 L342.6,517.6" fill="none" stroke="#94583b" stroke-width="1.4" stroke-linejoin="round"/>
<path d="M20.6,481.59 L122.02,481.62 L132.87,481.81 L139.84,482.29 L144.51,483.07 L148.54,484.27 L152.27,486.02 L155.85,488.39 L159.54,491.55 L163.37,495.56 L167.45,500.53 L171.87,506.56 L275.38,506.62 L291.19,506.83 L301.9,507.29 L307.42,507.77 L312.34,508.42 L316.81,509.28 L321,510.37 L325.04,511.73 L328.94,513.37 L332.79,515.32 L336.6,517.6" fill="none" stroke="#62b64a" stroke-width="1.4" stroke-linejoin="round"/>
<path d="M20.6,490.23 L114.65,490.26 L128.9,490.35 L138.49,490.56 L144.45,490.85 L149.43,491.26 L153.76,491.84 L157.65,492.6 L161.24,493.58 L164.61,494.8 L167.79,496.29 L170.87,498.07 L227.89,498.1 L252.48,498.24 L269.74,498.64 L282.82,499.43 L291.06,500.33 L298.56,501.56 L305.53,503.14 L312.15,505.12 L318.53,507.53 L324.69,510.4 L330.7,513.75 L336.6,517.6" fill="none" stroke="#2a28a0" stroke-width="1.4" stroke-linejoin="round"/>
<path d="M20.6,490.23 L114.99,490.25 L134.85,490.47 L140.07,490.72 L144.24,491.11 L147.79,491.66 L150.84,492.41 L153.56,493.4 L155.97,494.65 L158.14,496.2 L160.12,498.07 L261.05,498.15 L276.62,498.43 L287.71,499.06 L294.81,499.87 L301.26,501.02 L307.37,502.56 L313.25,504.54 L319.08,507.01 L324.88,509.99 L330.7,513.51 L336.6,517.6" fill="none" stroke="#84c3e8" stroke-width="1.4" stroke-linejoin="round"/>
<path d="M20.6,517.6 L200.58,412.23 L222.01,399.78 L235.87,391.94 L243.15,387.99 L249.33,384.83 L254.64,382.32 L259.43,380.33 L263.72,378.83 L267.75,377.74 L271.41,377.12 L274.84,376.91 L277.22,377.02 L279.58,377.36 L281.85,377.92 L284.08,378.74 L286.23,379.78 L288.36,381.07 L290.45,382.61 L292.49,384.38 L294.53,386.43 L296.54,388.74 L298.54,391.3 L300.55,394.16 L304.54,400.72 L308.53,408.44 L312.62,417.53 L316.74,427.87 L320.9,439.5 L325.12,452.45 L329.4,466.73 L333.75,482.38 L338.15,499.33 L342.6,517.6" fill="none" stroke="#94583b" stroke-width="1.15" stroke-linejoin="round" stroke-dasharray="3,0.75,1.6,0.75"/>
<path d="M20.6,517.6 L111.66,464.28 L127.96,454.9 L134.16,451.6 L138.82,449.51 L142.62,448.32 L144.31,448.03 L145.88,447.94 L147.7,448.09 L149.42,448.52 L151.06,449.24 L152.67,450.28 L154.25,451.62 L155.81,453.29 L157.35,455.3 L158.89,457.64 L160.45,460.38 L162.03,463.5 L165.24,470.9 L168.51,479.87 L171.87,490.45 L257.06,475.2 L271.26,472.77 L281,471.29 L290.05,470.28 L293.79,470.07 L296.93,470.05 L300.01,470.22 L302.8,470.57 L305.43,471.13 L307.83,471.88 L310.02,472.8 L312.18,473.96 L314.21,475.33 L316.15,476.92 L318.04,478.75 L319.87,480.83 L321.66,483.17 L323.39,485.76 L325.11,488.66 L326.81,491.86 L330.13,499.15 L333.38,507.71 L336.6,517.6" fill="none" stroke="#62b64a" stroke-width="1.15" stroke-linejoin="round" stroke-dasharray="3,0.75,1.6,0.75"/>
<path d="M20.6,517.6 L121.43,472.81 L135.51,466.9 L140.53,465.01 L144.76,463.62 L149.23,462.46 L153.15,461.86 L156.66,461.79 L159.84,462.25 L162.82,463.27 L165.63,464.86 L168.29,467.05 L170.87,469.88 L226.9,452.17 L240.35,448.06 L250.45,445.15 L259.66,442.78 L267.07,441.23 L273.61,440.3 L279.42,439.99 L284.26,440.24 L288.81,441.03 L293.04,442.34 L297.03,444.19 L300.87,446.63 L304.57,449.68 L308.11,453.31 L311.56,457.59 L314.93,462.56 L318.22,468.24 L321.43,474.61 L324.56,481.67 L327.63,489.47 L330.67,498.07 L333.65,507.43 L336.6,517.6" fill="none" stroke="#2a28a0" stroke-width="1.15" stroke-linejoin="round" stroke-dasharray="3,0.75,1.6,0.75"/>
<path d="M20.6,517.6 L120.52,473.18 L132.41,468.14 L136.59,466.55 L140.07,465.38 L143.89,464.39 L147.1,463.97 L149.91,464.07 L152.37,464.71 L154.59,465.92 L156.6,467.74 L158.44,470.18 L160.12,473.29 L236.84,448.95 L259.58,441.97 L268.11,439.63 L274.64,438.15 L280.31,437.26 L285.17,436.97 L289.34,437.23 L293.21,438.01 L296.8,439.33 L300.24,441.22 L303.56,443.71 L306.78,446.82 L309.91,450.59 L312.96,454.99 L316.01,460.16 L319.01,466.05 L321.98,472.68 L324.93,480.07 L327.85,488.22 L330.77,497.2 L333.68,506.97 L336.6,517.6" fill="none" stroke="#84c3e8" stroke-width="1.15" stroke-linejoin="round" stroke-dasharray="3,0.75,1.6,0.75"/>
<rect x="27.1" y="375.9" width="92" height="60.6" fill="#fff" stroke="#a8a8a8" stroke-width="0.6"/>
<line x1="27.8" y1="380.4" x2="41.6" y2="380.4" stroke="#94583b" stroke-width="1.4"/>
<text transform="translate(42.5,382.6) scale(0.94,1)" font-size="6.2" fill="#303030" stroke="#303030" stroke-width="0.12">I-V Case 0</text>
<line x1="27.8" y1="387.77" x2="41.6" y2="387.77" stroke="#62b64a" stroke-width="1.4"/>
<text transform="translate(42.5,389.97) scale(0.94,1)" font-size="6.2" fill="#303030" stroke="#303030" stroke-width="0.12">I-V Case (5,SP 5,TCT, 7,SP)</text>
<line x1="27.8" y1="395.14" x2="41.6" y2="395.14" stroke="#2a28a0" stroke-width="1.4"/>
<text transform="translate(42.5,397.34) scale(0.94,1)" font-size="6.2" fill="#303030" stroke="#303030" stroke-width="0.12">I-V Case 6,SP</text>
<line x1="27.8" y1="402.51" x2="41.6" y2="402.51" stroke="#84c3e8" stroke-width="1.4"/>
<text transform="translate(42.5,404.71) scale(0.94,1)" font-size="6.2" fill="#303030" stroke="#303030" stroke-width="0.12">I-V Case (6,TCT 7,TCT)</text>
<line x1="27.8" y1="409.88" x2="41.6" y2="409.88" stroke="#94583b" stroke-width="1.15" stroke-dasharray="3,0.75,1.6,0.75"/>
<text transform="translate(42.5,412.08) scale(0.94,1)" font-size="6.2" fill="#303030" stroke="#303030" stroke-width="0.12">P-V Case 0</text>
<line x1="27.8" y1="417.25" x2="41.6" y2="417.25" stroke="#62b64a" stroke-width="1.15" stroke-dasharray="3,0.75,1.6,0.75"/>
<text transform="translate(42.5,419.45) scale(0.94,1)" font-size="6.2" fill="#303030" stroke="#303030" stroke-width="0.12">P-V Case (5,SP 5,TCT, 7,SP)</text>
<line x1="27.8" y1="424.62" x2="41.6" y2="424.62" stroke="#2a28a0" stroke-width="1.15" stroke-dasharray="3,0.75,1.6,0.75"/>
<text transform="translate(42.5,426.82) scale(0.94,1)" font-size="6.2" fill="#303030" stroke="#303030" stroke-width="0.12">P-V Case 6,SP</text>
<line x1="27.8" y1="431.99" x2="41.6" y2="431.99" stroke="#84c3e8" stroke-width="1.15" stroke-dasharray="3,0.75,1.6,0.75"/>
<text transform="translate(42.5,434.19) scale(0.94,1)" font-size="6.2" fill="#303030" stroke="#303030" stroke-width="0.12">P-V Case (6,TCT 7,TCT)</text>
</svg>
</body></html>
